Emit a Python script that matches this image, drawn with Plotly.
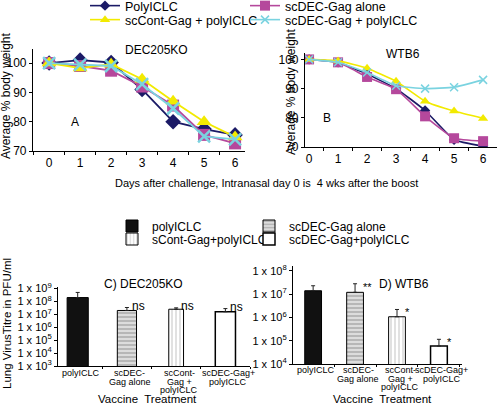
import math
import plotly.graph_objects as go

# ---------------- data ----------------
days = ["0", "1", "2", "3", "4", "5", "6"]
series_names = ["PolyICLC", "scDEC-Gag alone", "scCont-Gag + polyICLC", "scDEC-Gag + polyICLC"]

# Panel A (DEC205KO) average % body weight
a_poly = [100, 101, 100.2, 91, 80, 77.5, 75.5]
a_dec = [100, 99, 97.4, 92, 85.5, 75.5, 72.6]
a_cont = [100, 98.3, 99.6, 94.5, 87, 80, 74.8]
a_decpoly = [100, 99.5, 99, 92.8, 84.5, 75, 74]

# Panel B (WTB6)
b_poly = [100, 99, 95, 90, 82.5, 72.5, 70.3]
b_dec = [100, 99, 94, 89.8, 80.5, 73, 72]
b_cont = [100, 99.5, 97, 92.5, 85.7, 82.3, 79.8]
b_decpoly = [100, 99, 95.5, 91, 90, 90.5, 93]

# Bar panels (lung virus titre, PFU/ml)
bar_names = ["polyICLC", "scDEC-Gag alone", "sCont-Gag+polyICLC", "scDEC-Gag+polyICLC"]
bar_cats = ["polyICLC", "scDEC-<br>Gag alone", "scCont-<br>Gag +<br>polyICLC", "scDEC-Gag+<br>polyICLC"]
c_titre = [2.0e8, 2.0e7, 2.5e7, 1.6e7]
c_err_top = [5.0e8, 3.4e7, 3.2e7, 2.8e7]
c_sig = ["", "ns", "ns", "ns"]
d_titre = [1.4e7, 1.2e7, 1.07e6, 5.9e4]
d_err_top = [2.3e7, 2.8e7, 2.2e6, 1.15e5]
d_sig = ["", "**", "*", "*"]

c_ticks = [1e3, 1e4, 1e5, 1e6, 1e7, 1e8, 1e9]
c_ticktext = ["1 x 10<sup>3</sup>", "1 x 10<sup>4</sup>", "1 x 10<sup>5</sup>", "1 x 10<sup>6</sup>",
              "1 x 10<sup>7</sup>", "1 x 10<sup>8</sup>", "1 x 10<sup>9</sup>"]
d_ticks = [1e4, 1e5, 1e6, 1e7, 1e8]
d_ticktext = ["1 x 10<sup>4</sup>", "1 x 10<sup>5</sup>", "1 x 10<sup>6</sup>", "1 x 10<sup>7</sup>",
              "1 x 10<sup>8</sup>"]

# ---------------- styles ----------------
W, H = 500, 405
FONT = "Liberation Sans Narrow, Arial Narrow, Liberation Sans, Arial, sans-serif"
colors = ["#1b1a66", "#b5489c", "#f2ea00", "#7ad3e0"]
symbols = ["diamond", "square", "triangle-up", "x-thin"]
sizes_a = [12, 12, 13, 12]
sizes_b = [8, 10, 9, 8]
line_legends = ["legend", "legend3", "legend5", "legend6"]
line_leg_pos = [(85, 6), (245, 6), (85, 20), (245, 20)]
bar_legends = ["legend2", "legend4", "legend7", "legend8"]
bar_leg_pos = [(112, 226), (249, 226), (112, 239), (249, 239)]


def px(x):
    return x / W


def py(y):
    return 1 - y / H


fig = go.Figure()

a_vals = [a_poly, a_dec, a_cont, a_decpoly]
b_vals = [b_poly, b_dec, b_cont, b_decpoly]

for i, name in enumerate(series_names):
    mk = dict(symbol=symbols[i], size=sizes_a[i], color=colors[i],
              line=dict(color=colors[i], width=2.5 if symbols[i] == "x-thin" else 0))
    fig.add_trace(go.Scatter(x=days, y=a_vals[i], name=name, mode="lines+markers",
                             line=dict(color=colors[i], width=1.8), marker=mk,
                             xaxis="x", yaxis="y", showlegend=False))
for i, name in enumerate(series_names):
    mk = dict(symbol=symbols[i], size=sizes_b[i], color=colors[i],
              line=dict(color=colors[i], width=1.5 if symbols[i] == "x-thin" else 0))
    fig.add_trace(go.Scatter(x=days, y=b_vals[i], name=name, mode="lines+markers",
                             line=dict(color=colors[i], width=1.6, shape="spline", smoothing=0.4),
                             marker=mk, xaxis="x2", yaxis="y2", legend=line_legends[i]))

bar_styles = [
    dict(color="#111111", line=dict(color="black", width=1)),
    dict(color="#d0d0d0", line=dict(color="black", width=1),
         pattern=dict(shape="-", fgcolor="#8a8a8a", bgcolor="#dcdcdc", size=4, solidity=0.45)),
    dict(color="white", line=dict(color="black", width=1),
         pattern=dict(shape="|", fgcolor="#9a9a9a", bgcolor="white", size=4, solidity=0.3)),
    dict(color="white", line=dict(color="black", width=1.5)),
]
c_widths = [0.43, 0.39, 0.3, 0.41]
d_widths = [0.4, 0.4, 0.4, 0.4]

for i in range(4):
    fig.add_trace(go.Bar(x=[bar_cats[i]], y=[c_titre[i]], name=bar_names[i], width=c_widths[i],
                         marker=bar_styles[i], xaxis="x3", yaxis="y3", legend=bar_legends[i],
                         error_y=dict(type="data", symmetric=False,
                                      array=[c_err_top[i] - c_titre[i]], arrayminus=[0],
                                      color="#222222", thickness=1, width=2)))
for i in range(4):
    fig.add_trace(go.Bar(x=[bar_cats[i]], y=[d_titre[i]], name=bar_names[i], width=d_widths[i],
                         marker=bar_styles[i], xaxis="x4", yaxis="y4", showlegend=False,
                         error_y=dict(type="data", symmetric=False,
                                      array=[d_err_top[i] - d_titre[i]], arrayminus=[0],
                                      color="#222222", thickness=1, width=2)))

axis_common = dict(showline=True, linecolor="black", linewidth=1.2, ticks="outside",
                   tickcolor="black", ticklen=3, showgrid=False, zeroline=False, tickangle=0,
                   tickfont=dict(family=FONT, size=12, color="black"))
log_font = dict(family=FONT, size=11, color="black")

fig.update_layout(
    width=W, height=H, autosize=False,
    margin=dict(l=0, r=0, t=0, b=0, autoexpand=False),
    paper_bgcolor="white", plot_bgcolor="white",
    font=dict(family=FONT, color="black"),
    barmode="overlay",
    xaxis=dict(domain=[px(33), px(245)], anchor="y", type="category", tickson="boundaries",
               range=[-0.52, 6.32], **axis_common),
    yaxis=dict(domain=[py(151), py(49)], anchor="x", range=[70, 104.8],
               tickvals=[70, 80, 90, 100], **axis_common),
    xaxis2=dict(domain=[px(305), px(497)], anchor="y2", type="category", tickson="boundaries",
                range=[-0.14, 6.48], **axis_common),
    yaxis2=dict(domain=[py(147), py(53)], anchor="x2", range=[70, 102.2],
                tickvals=[70, 80, 90, 100], **axis_common),
    xaxis3=dict(domain=[px(58), px(250)], anchor="y3", type="category", tickson="boundaries",
                range=[-0.4, 3.5], showticklabels=False, **{**axis_common, "ticklen": 2}),
    yaxis3=dict(domain=[py(366), py(287)], anchor="x3", type="log", range=[3, 9.12],
                tickvals=c_ticks, ticktext=c_ticktext, **{**axis_common, "tickfont": log_font}),
    xaxis4=dict(domain=[px(293), px(462)], anchor="y4", type="category", tickson="boundaries",
                range=[-0.48, 3.55], showticklabels=False, **{**axis_common, "ticklen": 2}),
    yaxis4=dict(domain=[py(364), py(266)], anchor="x4", type="log", range=[4, 8.21],
                tickvals=d_ticks, ticktext=d_ticktext, **{**axis_common, "tickfont": log_font}),
)

leg_common = dict(orientation="h", xanchor="left", yanchor="middle",
                  bgcolor="rgba(0,0,0,0)", borderwidth=0, itemclick=False)
line_leg_font = dict(family=FONT, size=12.5, color="black")
bar_leg_font = dict(family=FONT, size=12, color="black")
legend_cfg = {}
for name, (lx, ly) in zip(line_legends, line_leg_pos):
    legend_cfg[name] = dict(x=px(lx), y=py(ly), font=line_leg_font, **leg_common)
for name, (lx, ly) in zip(bar_legends, bar_leg_pos):
    legend_cfg[name] = dict(x=px(lx), y=py(ly), font=bar_leg_font, **leg_common)
fig.update_layout(**legend_cfg)

annots = [
    dict(text="DEC205KO", x=px(156), y=py(50), size=12),
    dict(text="A", x=px(75), y=py(122), size=12),
    dict(text="WTB6", x=px(403), y=py(54), size=12),
    dict(text="B", x=px(327), y=py(118), size=12),
    dict(text="Days after challenge, Intranasal day 0 is  4 wks after the boost", x=px(266), y=py(183), size=11),
    dict(text="C) DEC205KO", x=px(143), y=py(284), size=12),
    dict(text="D) WTB6", x=px(404), y=py(284), size=12),
    dict(text="Vaccine  Treatment", x=px(147), y=py(399), size=11.5),
    dict(text="Vaccine  Treatment", x=px(382), y=py(399), size=11.5),
]
for a in annots:
    fig.add_annotation(text=a["text"], x=a["x"], y=a["y"], xref="paper", yref="paper",
                       showarrow=False, xanchor="center", yanchor="middle",
                       font=dict(family=FONT, size=a["size"], color="black"))

for txt, x, y, s in [("Average % body weight", 6, 96, 12), ("Average % body weight", 291, 92, 12),
                     ("Lung VirusTitre in PFU/ml", 7, 324, 11.5)]:
    fig.add_annotation(text=txt, x=px(x), y=py(y), xref="paper", yref="paper", textangle=-90,
                       showarrow=False, xanchor="center", yanchor="middle",
                       font=dict(family=FONT, size=s, color="black"))

# category labels below the bar axes, with tight line spacing
for xr, first_y in [("x3", 373), ("x4", 370)]:
    for cat in bar_cats:
        for j, line in enumerate(cat.split("<br>")):
            fig.add_annotation(text=line, x=cat, y=py(first_y + 8.5 * j), xref=xr, yref="paper",
                               showarrow=False, xanchor="center", yanchor="middle", xshift=3,
                               font=dict(family=FONT, size=9, color="black"))

for i in range(4):
    if c_sig[i]:
        fig.add_annotation(text=c_sig[i], x=bar_cats[i], y=math.log10(c_err_top[i]), xref="x3", yref="y3",
                           showarrow=False, xanchor="left", yanchor="middle", xshift=3, yshift=2,
                           font=dict(family=FONT, size=12, color="black"))
    if d_sig[i]:
        fig.add_annotation(text=d_sig[i], x=bar_cats[i], y=math.log10(d_err_top[i]), xref="x4", yref="y4",
                           showarrow=False, xanchor="left", yanchor="middle", xshift=6, yshift=-3,
                           font=dict(family=FONT, size=11, color="black"))

fig.write_html("out.html", config={"displayModeBar": False},
               post_script="document.body.style.margin='0';")
